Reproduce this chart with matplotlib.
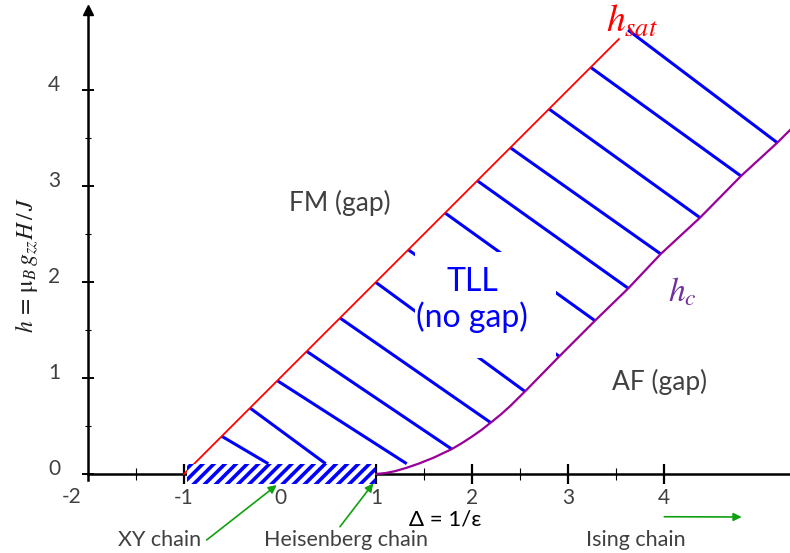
import numpy as np
import matplotlib.pyplot as plt
from matplotlib.patches import Rectangle
from matplotlib.transforms import ScaledTranslation

plt.rcParams['font.family'] = ['Lato', 'DejaVu Sans']
plt.rcParams['mathtext.fontset'] = 'stix'
plt.rcParams['hatch.linewidth'] = 2.6

# saturation field h_sat = 1 + Delta
sat_delta = [-1.0, 3.53]

# lower critical field h_c (opens at the Heisenberg point, Delta = 1)
hc_delta = [1.0, 1.1, 1.2, 1.32, 1.45, 1.6, 1.79, 1.9, 2.0, 2.1, 2.195,
            2.3, 2.4, 2.552, 2.909, 3.281, 3.628, 3.966, 4.375, 4.802,
            5.18, 5.3125]
hc_h = [0.0, 0.01, 0.03, 0.065, 0.11, 0.17, 0.26, 0.325, 0.39, 0.46, 0.535,
        0.62, 0.71, 0.86, 1.225, 1.597, 1.934, 2.292, 2.67, 3.104,
        3.451, 3.583]

# TLL hatching: each stroke runs from h_sat down to h_c (or the XY band)
stroke_start = [-0.607, -0.3125, -0.028, 0.278, 0.625, 0.997, 1.336, 1.719,
                2.055, 2.399, 2.802, 3.236, 3.625]
stroke_end = [-0.122, 0.476, 1.32, 1.789, 2.195, 2.552, 2.909, 3.281,
              3.628, 3.966, 4.375, 4.802, 5.18]

# gapless XY segment -1 < Delta < 1 at h = 0
band_delta = [-0.97, 0.99]
band_half = 0.107

# blank area kept clear behind the TLL label (Delta range, h range)
label_box_delta = [1.406, 2.875]
label_box_h = [1.208, 2.3125]

x_major = [-1, 0, 1, 2, 3, 4]
x_minor = [-1.5, -0.5, 0.5, 1.5, 2.5, 3.5]
y_major = [0, 1, 2, 3, 4]
y_minor = [0.5, 1.5, 2.5, 3.5]

grey = '#404040'

fig = plt.figure(figsize=(7.9, 5.53), dpi=100)
ax = fig.add_axes([0, 0, 1, 1])
ax.set_xlim(-2.9167, 5.3125)
ax.set_ylim(-0.8229, 4.9375)

# axes crossing at (-2, 0)
for side in ['top', 'right']:
    ax.spines[side].set_visible(False)
ax.spines['left'].set_position(('data', -2))
ax.spines['bottom'].set_position(('data', 0))
ax.spines['left'].set_bounds(-0.06, 4.8)
ax.spines['bottom'].set_bounds(-2, 5.3125)
for side in ['left', 'bottom']:
    ax.spines[side].set_linewidth(1.8)
ax.plot(-2, 4.83, marker='^', color='black', ms=7, clip_on=False)

ax.set_xticks(x_major)
ax.set_xticklabels([str(v) for v in x_major])
ax.set_xticks(x_minor, minor=True)
ax.set_yticks(y_major)
ax.set_yticklabels([str(v) for v in y_major])
ax.set_yticks(y_minor, minor=True)
ax.tick_params(axis='x', which='major', direction='inout', length=14,
               width=1.6, pad=3, labelsize=15, labelcolor=grey)
ax.tick_params(axis='x', which='minor', direction='inout', length=8, width=0.8)
ax.tick_params(axis='y', which='major', direction='inout', length=8,
               width=1.4, pad=16, labelsize=15, labelcolor=grey)
ax.tick_params(axis='y', which='minor', direction='inout', length=5, width=0.8)
lift = ScaledTranslation(0, 7 / 100, fig.dpi_scale_trans)
for lab in ax.get_yticklabels():
    lab.set_transform(lab.get_transform() + lift)
ax.text(-2.167, -0.24, '-2', fontsize=15, color=grey, ha='center', va='center')

# phase boundaries
sat_h = [d + 1 for d in sat_delta]
ax.plot(sat_delta, sat_h, color='red', lw=1.3, zorder=4)
ax.plot(hc_delta, hc_h, color='#990099', lw=1.6, zorder=4)

# hatching strokes of the TLL region
start = np.array(stroke_start)
end = np.array(stroke_end)
end_h = np.maximum(np.interp(end, hc_delta, hc_h, left=0.0), band_half)
for x0, x1, y1 in zip(start, end, end_h):
    ax.plot([x0, x1], [x0 + 1, y1], color='blue', lw=2.2,
            solid_capstyle='butt', zorder=3)

ax.add_patch(Rectangle((band_delta[0], -band_half),
                       band_delta[1] - band_delta[0], 2 * band_half,
                       facecolor='white', edgecolor='blue', hatch='///',
                       linewidth=0, zorder=5))

# region labels
ax.add_patch(Rectangle((label_box_delta[0], label_box_h[0]),
                       label_box_delta[1] - label_box_delta[0],
                       label_box_h[1] - label_box_h[0],
                       facecolor='white', edgecolor='none', zorder=3.5))
ax.text(2.0, 1.8125, 'TLL\n(no gap)', fontsize=23, color='blue',
        ha='center', va='center', linespacing=1.2, zorder=3.6)
ax.text(0.625, 2.823, 'FM (gap)', fontsize=19, color=grey,
        ha='center', va='center')
ax.text(3.958, 0.958, 'AF (gap)', fontsize=19, color=grey,
        ha='center', va='center')
ax.text(3.67, 4.72, r'$h_{sat}$', fontsize=27, color='red',
        ha='center', va='center')
ax.text(4.19, 1.9, r'$h_c$', fontsize=24, color='#7030a0',
        ha='center', va='center')

ax.text(-2.64, 2.177, r'$h\,=\,\mathrm{\mu}_B\, g_{zz}H\,/\,J$',
        fontsize=17, rotation=90, ha='center', va='center', color='#202020')
ax.text(1.719, -0.479, 'Δ = 1/ε', fontsize=16, color='black',
        ha='center', va='center')

# special points on the Delta axis
green = '#10a010'
arrow_kw = dict(arrowstyle='-|>', color=green, lw=1.2, mutation_scale=12,
                shrinkA=0, shrinkB=0)
ax.annotate('', xy=(-0.034, -0.115), xytext=(-0.764, -0.6875),
            arrowprops=arrow_kw)
ax.annotate('', xy=(0.972, -0.097), xytext=(0.625, -0.549),
            arrowprops=arrow_kw)
ax.annotate('', xy=(4.809, -0.448), xytext=(4.003, -0.445),
            arrowprops=arrow_kw)
ax.text(-1.25, -0.6875, 'XY chain', fontsize=15.5, color=grey,
        ha='center', va='center')
ax.text(0.6875, -0.6875, 'Heisenberg chain', fontsize=15.5, color=grey,
        ha='center', va='center')
ax.text(3.708, -0.6875, 'Ising chain', fontsize=15.5, color=grey,
        ha='center', va='center')

fig.savefig('out.png', dpi=100)
